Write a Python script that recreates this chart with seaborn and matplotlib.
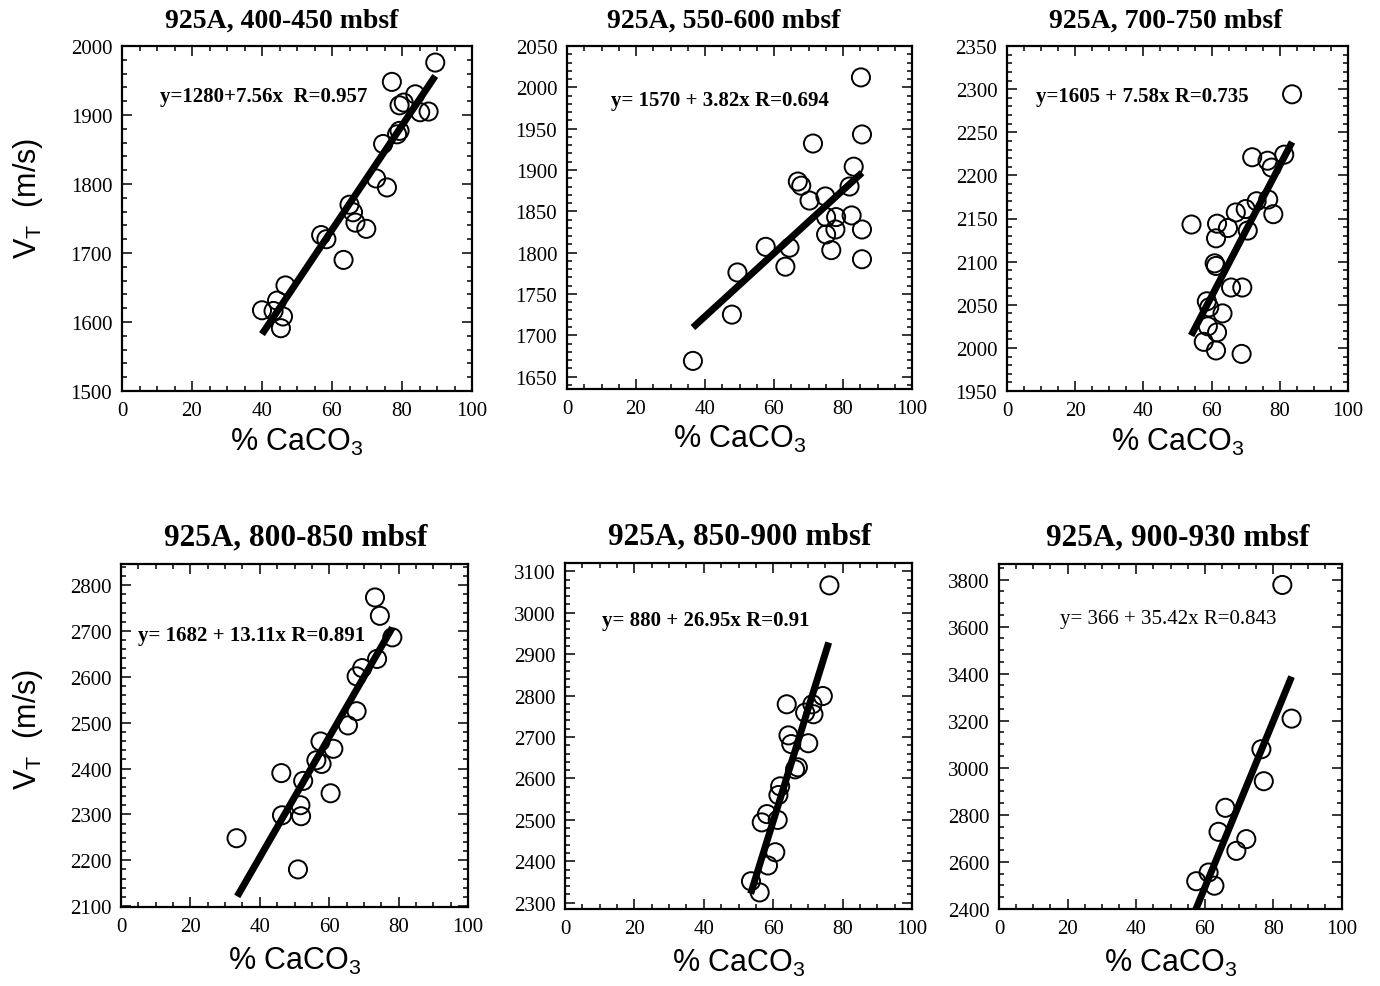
import numpy as np
import pandas as pd
import matplotlib
matplotlib.use("Agg")
import matplotlib.pyplot as plt
import seaborn as sns
from matplotlib.ticker import MultipleLocator

# ---------------- data ----------------
titles = ["925A, 400-450 mbsf", "925A, 550-600 mbsf", "925A, 700-750 mbsf",
          "925A, 800-850 mbsf", "925A, 850-900 mbsf", "925A, 900-930 mbsf"]
eq_labels = ["y=1280+7.56x  R=0.957", "y= 1570 + 3.82x R=0.694", "y=1605 + 7.58x R=0.735",
             "y= 1682 + 13.11x R=0.891", "y= 880 + 26.95x R=0.91", "y= 366 + 35.42x R=0.843"]

caco3_400_450 = [89.5, 77.1, 83.8, 79.3, 80.5, 85.2, 87.6, 78.6, 79.3, 74.6, 72.6, 75.7, 65.0,
                 66.0, 66.7, 69.8, 56.9, 58.4, 63.3, 46.7, 40.0, 44.3, 43.3, 46.0, 45.4]
vt_400_450 = [1976, 1948, 1930, 1914, 1918, 1904, 1905, 1872, 1877, 1858, 1808, 1795, 1770,
              1759, 1744, 1735, 1726, 1720, 1690, 1653, 1617, 1631, 1616, 1608, 1591]

caco3_550_600 = [85.2, 85.5, 71.3, 83.1, 81.9, 66.9, 67.9, 70.3, 74.9, 75.1, 78.0, 82.5,
                 77.8, 85.5, 75.1, 76.6, 85.5, 57.6, 64.5, 63.3, 49.4, 47.8, 36.5]
vt_550_600 = [2012, 1943, 1932, 1904, 1880, 1886, 1881, 1863, 1868, 1843, 1843, 1845,
              1828, 1828, 1822, 1803, 1792, 1807, 1806, 1783, 1776, 1725, 1669]

caco3_700_750 = [83.6, 81.3, 71.9, 76.4, 77.6, 73.2, 76.6, 78.1, 67.1, 70.0, 70.6, 54.1, 61.6,
                 64.8, 61.3, 60.9, 61.3, 65.7, 69.0, 58.6, 59.3, 63.2, 58.9, 61.6, 57.7, 61.3, 68.8]
vt_700_750 = [2294, 2224, 2221, 2217, 2209, 2170, 2172, 2155, 2157, 2161, 2136, 2143, 2144,
              2139, 2127, 2098, 2095, 2070, 2070, 2054, 2047, 2040, 2025, 2018, 2007, 1997, 1993]

caco3_800_850 = [73.2, 74.6, 78.2, 73.8, 69.5, 67.9, 67.9, 65.4, 57.5, 61.2, 56.3, 57.8,
                 46.2, 52.5, 60.4, 51.7, 46.4, 51.9, 33.3, 51.0]
vt_800_850 = [2773, 2733, 2686, 2639, 2619, 2601, 2525, 2494, 2459, 2443, 2418, 2410,
              2390, 2373, 2346, 2320, 2298, 2296, 2248, 2180]

caco3_850_900 = [76.2, 74.3, 63.9, 69.2, 71.6, 71.3, 64.4, 65.2, 70.1, 66.3, 67.1, 62.0,
                 61.5, 58.2, 56.7, 61.3, 60.6, 58.5, 53.6, 56.1]
vt_850_900 = [3066, 2799, 2779, 2759, 2755, 2779, 2704, 2683, 2685, 2622, 2627, 2581,
              2560, 2514, 2494, 2500, 2422, 2390, 2352, 2325]

caco3_900_930 = [82.6, 85.3, 76.5, 77.2, 66.0, 64.0, 72.1, 69.2, 61.1, 57.5, 62.8]
vt_900_930 = [3777, 3209, 3079, 2943, 2830, 2728, 2697, 2647, 2555, 2518, 2499]

intercepts = [1280, 1570, 1605, 1682, 880, 366]
slopes = [7.56, 3.82, 7.58, 13.11, 26.95, 35.42]
fit_x_start = [40.0, 36.5, 54.0, 33.5, 53.5, 57.3]
fit_x_end = [89.5, 85.5, 83.6, 78.2, 76.0, 85.3]

y_limits = [(1500, 2000), (1635, 2050), (1950, 2350), (2098, 2846), (2285, 3120), (2400, 3866)]
y_major = [100, 50, 50, 100, 100, 200]
y_minor = [20, 10, 10, 20, 20, 50]
x_ticks = [0, 20, 40, 60, 80, 100]

caco3_sets = [caco3_400_450, caco3_550_600, caco3_700_750, caco3_800_850, caco3_850_900, caco3_900_930]
vt_sets = [vt_400_450, vt_550_600, vt_700_750, vt_800_850, vt_850_900, vt_900_930]

# ---------------- style ----------------
sns.set_style("white")
plt.rcParams["font.family"] = ["Liberation Serif", "DejaVu Serif"]
plt.rcParams["mathtext.fontset"] = "custom"
plt.rcParams["mathtext.rm"] = "Liberation Sans"
plt.rcParams["mathtext.it"] = "Liberation Sans:italic"
plt.rcParams["mathtext.bf"] = "Liberation Sans:bold"
plt.rcParams["text.color"] = "black"
plt.rcParams["axes.labelcolor"] = "black"
plt.rcParams["xtick.color"] = "black"
plt.rcParams["ytick.color"] = "black"

W, H = 1380, 987
fig = plt.figure(figsize=(W / 100, H / 100), dpi=100)

# panel frames in pixels (left, right, top, bottom)
frames = [(122, 472, 47, 392), (567, 912, 47, 390), (1007, 1348, 47, 392),
          (121, 468, 565, 908), (565, 912, 564, 910), (999, 1342, 565, 910)]
eq_pos = [(0.109, 0.855), (0.128, 0.843), (0.085, 0.855),
          (0.049, 0.793), (0.107, 0.835), (0.178, 0.843)]
eq_weight = ["bold", "bold", "bold", "bold", "bold", "normal"]
title_size = [20, 20, 20, 22.5, 22.5, 22.5]
title_x = [0.455, 0.455, 0.465, 0.505, 0.505, 0.52]

for i in range(6):
    l, r, t, b = frames[i]
    ax = fig.add_axes([l / W, 1 - b / H, (r - l) / W, (b - t) / H])
    df = pd.DataFrame({"caco3": caco3_sets[i], "vt": vt_sets[i]})
    sns.scatterplot(data=df, x="caco3", y="vt", ax=ax, s=170, marker="o",
                    color="black", linewidth=1.4, zorder=3, legend=False)
    coll = ax.collections[-1]
    coll.set_facecolor("none")
    coll.set_edgecolor("black")
    coll.set_linewidth(1.4)

    fx = np.array([fit_x_start[i], fit_x_end[i]])
    fdf = pd.DataFrame({"x": fx, "y": intercepts[i] + slopes[i] * fx})
    sns.lineplot(data=fdf, x="x", y="y", ax=ax, color="black", linewidth=5,
                 zorder=4, legend=False)
    ax.lines[-1].set_solid_capstyle("butt")

    ax.set_xlim(0, 100)
    ax.set_ylim(*y_limits[i])
    ax.set_xticks(x_ticks)
    ax.xaxis.set_minor_locator(MultipleLocator(5))
    ax.yaxis.set_major_locator(MultipleLocator(y_major[i]))
    ax.yaxis.set_minor_locator(MultipleLocator(y_minor[i]))
    ax.tick_params(which="both", direction="in", top=True, right=True,
                   bottom=True, left=True, width=1.1, colors="black",
                   labelsize=15, pad=7)
    ax.tick_params(which="major", length=7)
    ax.tick_params(which="minor", length=3.8)
    for sp in ax.spines.values():
        sp.set_linewidth(1.6)
        sp.set_color("black")

    ax.set_title(titles[i], fontsize=title_size[i], fontweight="bold", pad=14,
                 x=title_x[i], color="black")
    ax.text(eq_pos[i][0], eq_pos[i][1], eq_labels[i], transform=ax.transAxes,
            fontsize=15, fontweight=eq_weight[i], ha="left", va="center", color="black")

    ax.set_xlabel("% CaCO$_3$", fontsize=22, family=["Liberation Sans", "DejaVu Sans"])
    ax.xaxis.set_label_coords(0.5, -0.10 if i < 3 else -0.11)
    ax.xaxis.label.set_va("top")
    if i % 3 == 0:
        ax.set_ylabel(r"V$_\mathrm{T}$  (m/s)", fontsize=22, family=["Liberation Sans", "DejaVu Sans"])
        ax.yaxis.set_label_coords(-0.22, 0.56 if i == 0 else 0.52)
    else:
        ax.set_ylabel("")

fig.savefig("out.png", dpi=100, facecolor="white")
